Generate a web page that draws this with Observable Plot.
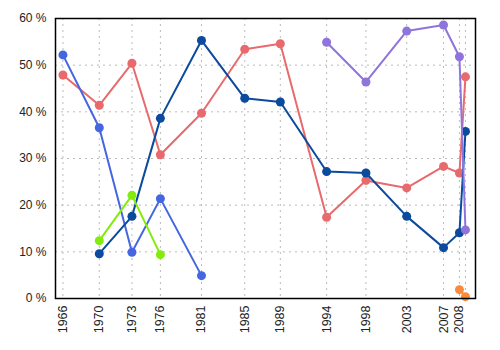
<!DOCTYPE html>
<html><head><meta charset="utf-8">
<script src="https://cdn.jsdelivr.net/npm/d3@7"></script>
<script src="https://cdn.jsdelivr.net/npm/@observablehq/plot@0.6"></script>
<style>body{margin:0;background:#fff}</style>
</head><body><div id="chart"></div>
<script>
const dates = ["1966-06-05","1970-04-29","1973-10-29","1976-11-15","1981-04-13","1985-12-02","1989-09-25","1994-09-12","1998-11-30","2003-04-14","2007-03-26","2008-12-08","2009-08-01"];
const tickLabels = ["1966","1970","1973","1976","1981","1985","1989","1994","1998","2003","2007","2008",""];
const seriesRed    = [47.9,41.4,50.4,30.8,39.7,53.4,54.6,17.4,25.3,23.7,28.3,26.9,47.5];
const seriesBlue   = [52.2,36.6,9.9,21.4,4.9,null,null,null,null,null,null,null,null];
const seriesNavy   = [null,9.6,17.6,38.6,55.3,42.9,42.1,27.2,26.9,17.6,10.9,14.1,35.8];
const seriesGreen  = [null,12.4,22.1,9.4,null,null,null,null,null,null,null,null,null];
const seriesPurple = [null,null,null,null,null,null,null,54.9,46.4,57.3,58.6,51.8,14.7];
const seriesOrange = [null,null,null,null,null,null,null,null,null,null,null,1.9,0.4];
const yTicks = [0,10,20,30,40,50,60];

const colors = ["#e96a6c","#4466e0","#0b4a9c","#84ec0c","#8f74dc","#f98a3c"];
const valuesList = [seriesRed,seriesBlue,seriesNavy,seriesGreen,seriesPurple,seriesOrange];

const parse = d3.utcParse("%Y-%m-%d");
const dateObjs = dates.map(parse);
const labelOf = new Map(dateObjs.map((d,i)=>[+d, tickLabels[i]]));

const marks = [
  Plot.gridY(yTicks, {stroke:"#aaa", strokeOpacity:0.8, strokeDasharray:"2,4", strokeWidth:1}),
  Plot.gridX(dateObjs, {stroke:"#aaa", strokeOpacity:0.8, strokeDasharray:"2,4", strokeWidth:1}),
];
valuesList.forEach((vals, k) => {
  const rows = [];
  vals.forEach((v,i) => { if (v != null) rows.push({date: dateObjs[i], value: v}); });
  marks.push(Plot.line(rows, {x:"date", y:"value", stroke: colors[k], strokeWidth: 2}));
  marks.push(Plot.dot(rows, {x:"date", y:"value", fill: colors[k], r: 4.5}));
});
marks.push(Plot.frame({stroke:"#000", strokeWidth:1.5}));
marks.push(Plot.axisY(yTicks, {tickSize:0, tickPadding:9, tickFormat: d => d + " %", fontSize:12, label:null}));
marks.push(Plot.axisX(dateObjs, {tickSize:0, tickPadding:7, tickRotate:-90, tickFormat: d => labelOf.get(+d), fontSize:12.5, label:null}));

const chart = Plot.plot({
  width: 500, height: 350,
  marginLeft: 55, marginRight: 25, marginTop: 18, marginBottom: 52,
  style: {fontFamily: "Liberation Sans, Arial, sans-serif", fontSize: "12px", color:"#222", background:"#fff"},
  x: {type: "utc", domain: [parse("1965-08-18"), parse("2010-08-29")], label: null},
  y: {domain: [0, 60], label: null},
  marks
});
document.getElementById("chart").appendChild(chart);
</script>
</body></html>
